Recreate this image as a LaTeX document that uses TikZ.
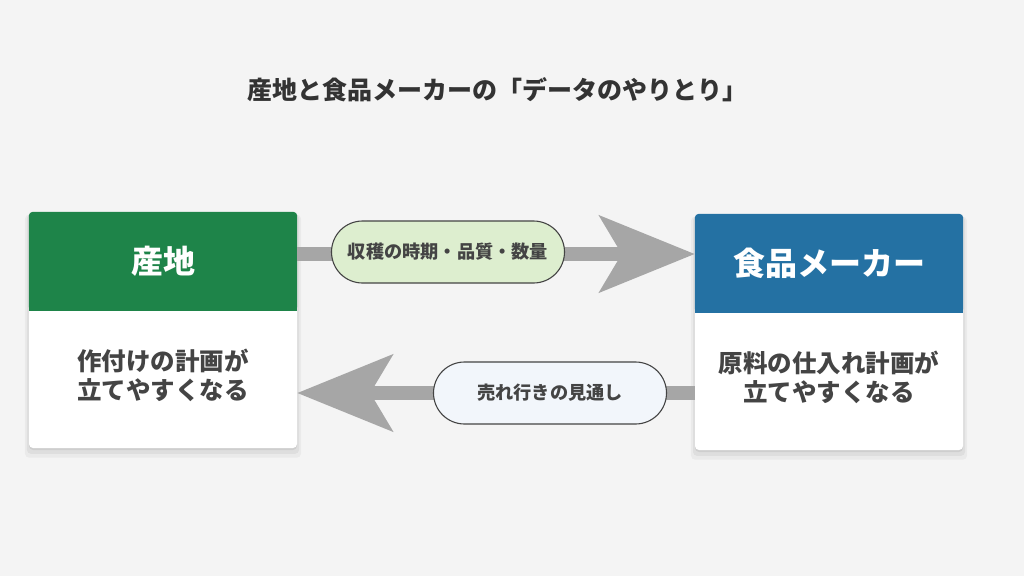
\documentclass[tikz,border=0pt]{standalone}
\usepackage{fontspec}
\setmainfont{Noto Sans CJK JP}
\usetikzlibrary{arrows.meta,positioning,shadows,shapes.misc}
\definecolor{bggrey}{HTML}{F4F4F4}
\definecolor{farmgreen}{HTML}{1E8449}
\definecolor{makerblue}{HTML}{2471A3}
\definecolor{flowgrey}{HTML}{A6A6A6}
\definecolor{inkgrey}{HTML}{444444}
\definecolor{pillgreen}{HTML}{DDEECF}
\definecolor{pillblue}{HTML}{F2F6FB}

\begin{document}
\begin{tikzpicture}
  [x=1pt,y=-1pt,
   every node/.style={inner sep=0pt,text=inkgrey,font=\bfseries},
   card/.style={fill=white,rounded corners=4pt,minimum width=268pt,minimum height=236pt,
     drop shadow={shadow xshift=0pt,shadow yshift=-6pt,shadow scale=1.03,opacity=0.04,fill=black},
     drop shadow={shadow xshift=0pt,shadow yshift=-4pt,shadow scale=1.015,opacity=0.05,fill=black},
     drop shadow={shadow xshift=0pt,shadow yshift=-2pt,opacity=0.07,fill=black}},
   headtext/.style={minimum width=268pt,minimum height=99pt,text=white,font=\fontsize{32}{36}\selectfont\bfseries},
   bodytext/.style={minimum width=268pt,minimum height=137pt,align=center,font=\fontsize{24.5}{29}\selectfont\bfseries},
   pill/.style={rounded rectangle,draw=inkgrey,line width=1.1pt,minimum width=233pt,minimum height=62pt,
     font=\fontsize{18.2}{21}\selectfont\bfseries},
   flow/.style={draw=flowgrey,line width=14pt,-{Stealth[length=95pt,width=76pt,inset=22pt,fill=flowgrey]}}]
  \useasboundingbox[fill=bggrey] (0,0) rectangle (1024,576);

  \node[text=black!80,font=\fontsize{25}{29}\selectfont\bfseries] (title) at (497,90)
    {産地と食品メーカーの「データのやりとり」};

  % cards
  \node[card] (farm) at (163,330) {};
  \node[card] (maker) at (829,332) {};
  \fill[farmgreen,rounded corners=4pt] (farm.north west) rectangle ([yshift=-99pt]farm.north east);
  \fill[farmgreen] ([yshift=-40pt]farm.north west) rectangle ([yshift=-99pt]farm.north east);
  \fill[makerblue,rounded corners=4pt] (maker.north west) rectangle ([yshift=-99pt]maker.north east);
  \fill[makerblue] ([yshift=-40pt]maker.north west) rectangle ([yshift=-99pt]maker.north east);
  \node[headtext,below=0pt of farm.north] (farmhead) {産地};
  \node[headtext,below=0pt of maker.north] (makerhead) {食品メーカー};
  \node[bodytext,below=-5pt of farmhead] (farmbody) {作付けの計画が\\立てやすくなる};
  \node[bodytext,below=-5pt of makerhead] (makerbody) {原料の仕入れ計画が\\立てやすくなる};

  % flows
  \coordinate (upper) at (0,254);
  \coordinate (lower) at (0,393);
  \draw[flow] (farm.east |- upper) -- (maker.west |- upper);
  \draw[flow] (maker.west |- lower) -- (farm.east |- lower);
  \node[pill,fill=pillgreen] (harvest) at (448,252) {収穫の時期・品質・数量};
  \node[pill,fill=pillblue] (outlook) at (550,393) {売れ行きの見通し};
\end{tikzpicture}
\end{document}
